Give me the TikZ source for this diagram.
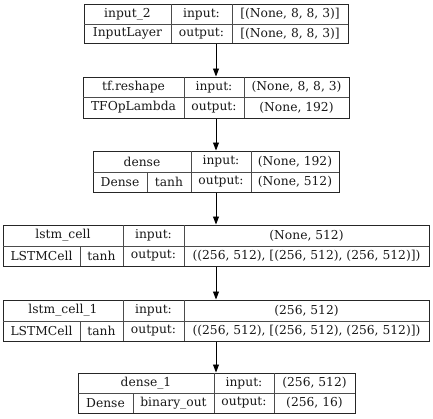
\documentclass[tikz,border=0pt]{standalone}
\usepackage{fontspec}
\setmainfont{DejaVu Serif}
\usetikzlibrary{arrows.meta}
\tikzset{
  frame/.style={draw=black!85, line width=1pt, inner sep=0pt, fill=white},
  divider/.style={draw=black!70, line width=1pt},
  cell/.style={inner sep=0pt, font=\fontsize{12.3}{14}\selectfont, text=black!90},
  conn/.style={line width=0.9pt, -{Triangle[length=8pt,width=6pt]}},
}
% \lbox{name}{L}{R}{T}{M}{B}{d1}{d2}
\newcommand\lbox[8]{%
  \node[frame, minimum width={(#3-#2)*1pt}, minimum height={(#6-#4)*1pt}] (#1) at ({(#2+#3)/2},{(#4+#6)/2}) {};
  \draw[divider] (#2,#5) -- (#3,#5);
  \draw[divider] (#7,#4) -- (#7,#6);
  \draw[divider] (#8,#4) -- (#8,#6);
}
\begin{document}
\begin{tikzpicture}[x=1pt,y=-1pt]
\useasboundingbox (0,0) rectangle (433,418);
% box 1
\lbox{b1}{84}{348}{4}{24}{43}{171}{232}
\node[cell] (b1n) at ({(84+171)/2},14) {input\_2};
\node[cell] (b1i) at ({(171+232)/2},14) {input:};
\node[cell] (b1iv) at ({(232+348)/2},14) {[(None, 8, 8, 3)]};
\node[cell] (b1c) at ({(84+171)/2},33.5) {InputLayer};
\node[cell] (b1o) at ({(171+232)/2},33.5) {output:};
\node[cell] (b1ov) at ({(232+348)/2},33.5) {[(None, 8, 8, 3)]};
% box 2
\lbox{b2}{83}{349}{77}{97}{118}{184}{244}
\node[cell] (b2n) at ({(83+184)/2},87) {tf.reshape};
\node[cell] (b2i) at ({(184+244)/2},87) {input:};
\node[cell] (b2iv) at ({(244+349)/2},87) {(None, 8, 8, 3)};
\node[cell] (b2c) at ({(83+184)/2},107.5) {TFOpLambda};
\node[cell] (b2o) at ({(184+244)/2},107.5) {output:};
\node[cell] (b2ov) at ({(244+349)/2},107.5) {(None, 192)};
% box 3
\lbox{b3}{93}{339}{151}{172}{192}{191}{251}
\draw[divider] (147,172) -- (147,192);
\node[cell] (b3n) at ({(93+191)/2},161.5) {dense};
\node[cell] (b3i) at ({(191+251)/2},161.5) {input:};
\node[cell] (b3iv) at ({(251+339)/2},161.5) {(None, 192)};
\node[cell] (b3c) at ({(93+147)/2},182) {Dense};
\node[cell] (b3a) at ({(147+191)/2},182) {tanh};
\node[cell] (b3o) at ({(191+251)/2},182) {output:};
\node[cell] (b3ov) at ({(251+339)/2},182) {(None, 512)};
% box 4
\lbox{b4}{3}{429}{225}{246}{266}{123}{184}
\draw[divider] (80,246) -- (80,266);
\node[cell] (b4n) at ({(3+123)/2},235.5) {lstm\_cell};
\node[cell] (b4i) at ({(123+184)/2},235.5) {input:};
\node[cell] (b4iv) at ({(184+429)/2},235.5) {(None, 512)};
\node[cell] (b4c) at ({(3+80)/2},256) {LSTMCell};
\node[cell] (b4a) at ({(80+123)/2},256) {tanh};
\node[cell] (b4o) at ({(123+184)/2},256) {output:};
\node[cell] (b4ov) at ({(184+429)/2},256) {((256, 512), [(256, 512), (256, 512)])};
% box 5
\lbox{b5}{3}{429}{300}{321}{341}{123}{184}
\draw[divider] (80,321) -- (80,341);
\node[cell] (b5n) at ({(3+123)/2},310.5) {lstm\_cell\_1};
\node[cell] (b5i) at ({(123+184)/2},310.5) {input:};
\node[cell] (b5iv) at ({(184+429)/2},310.5) {(256, 512)};
\node[cell] (b5c) at ({(3+80)/2},331) {LSTMCell};
\node[cell] (b5a) at ({(80+123)/2},331) {tanh};
\node[cell] (b5o) at ({(123+184)/2},331) {output:};
\node[cell] (b5ov) at ({(184+429)/2},331) {((256, 512), [(256, 512), (256, 512)])};
% box 6
\lbox{b6}{78}{355}{373}{393}{413}{214}{274}
\draw[divider] (133,393) -- (133,413);
\node[cell] (b6n) at ({(78+214)/2},383) {dense\_1};
\node[cell] (b6i) at ({(214+274)/2},383) {input:};
\node[cell] (b6iv) at ({(274+355)/2},383) {(256, 512)};
\node[cell] (b6c) at ({(78+133)/2},403) {Dense};
\node[cell] (b6a) at ({(133+214)/2},403) {binary\_out};
\node[cell] (b6o) at ({(214+274)/2},403) {output:};
\node[cell] (b6ov) at ({(274+355)/2},403) {(256, 16)};
% connectors
\draw[conn] (b1.south) -- (b1.south |- b2.north);
\draw[conn] (b2.south) -- (b2.south |- b3.north);
\draw[conn] (b3.south) -- (b3.south |- b4.north);
\draw[conn] (b4.south) -- (b4.south |- b5.north);
\draw[conn] (b5.south) -- (b5.south |- b6.north);
\end{tikzpicture}
\end{document}
